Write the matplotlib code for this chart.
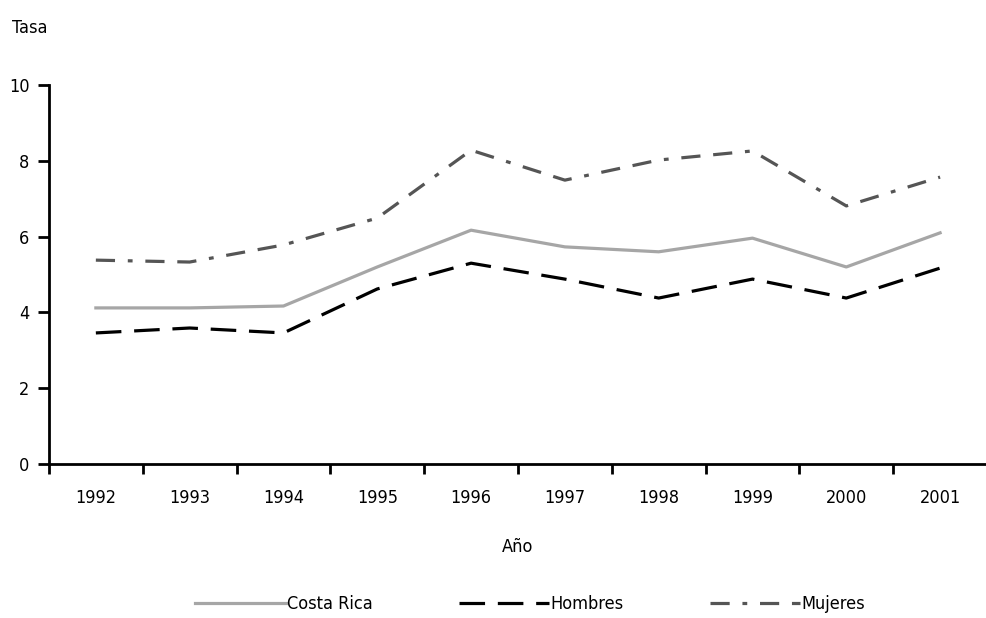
import matplotlib
matplotlib.use("Agg")
import matplotlib.pyplot as plt

years = ["1992", "1993", "1994", "1995", "1996", "1997", "1998", "1999", "2000", "2001"]
costa_rica = [4.12, 4.12, 4.17, 5.2, 6.17, 5.73, 5.6, 5.96, 5.2, 6.1]
hombres = [3.46, 3.59, 3.46, 4.62, 5.3, 4.88, 4.38, 4.88, 4.38, 5.17]
mujeres = [5.38, 5.33, 5.78, 6.49, 8.28, 7.49, 8.02, 8.26, 6.81, 7.57]
yticks = [0, 2, 4, 6, 8, 10]

plt.rcParams["font.family"] = ["DejaVu Sans"]
plt.rcParams["font.stretch"] = "condensed"

fig = plt.figure(figsize=(9.87, 6.18), dpi=100)
ax = fig.add_axes([0.0496, 0.249, 0.9504, 0.6135])
x = list(range(len(years)))
ax.plot(x, costa_rica, color="#a6a6a6", lw=2.3, label="Costa Rica")
ax.plot(x, hombres, color="black", lw=2.3, dashes=(8, 4), label="Hombres")
ax.plot(x, mujeres, color="#555555", lw=2.3, dashes=(6, 4, 1.5, 4, 6, 4), label="Mujeres")

ax.set_xlim(-0.5, len(years) - 0.5)
ax.set_ylim(0, 10)
ax.set_yticks(yticks)
ax.set_xticks(x)
ax.set_xticklabels(years, fontsize=13)
ax.set_xticks([i - 0.5 for i in range(len(years) + 1)], minor=True)
ax.tick_params(axis="x", which="major", length=0, pad=18)
ax.tick_params(axis="x", which="minor", length=7, width=2, direction="out")
ax.tick_params(axis="y", length=8, width=2, direction="out", labelsize=13, pad=6)
for s in ["top", "right"]:
    ax.spines[s].set_visible(False)
for s in ["left", "bottom"]:
    ax.spines[s].set_linewidth(2)

ax.set_xlabel("Año", fontsize=13, labelpad=22)
fig.text(0.012, 0.955, "Tasa", fontsize=13, ha="left", va="center")

fig.legend(loc="center", bbox_to_anchor=(0.537, 0.022), ncol=3, frameon=False,
           fontsize=13, handlelength=5.0, handletextpad=0.05, columnspacing=4.8)

fig.savefig("out.png", dpi=100)
